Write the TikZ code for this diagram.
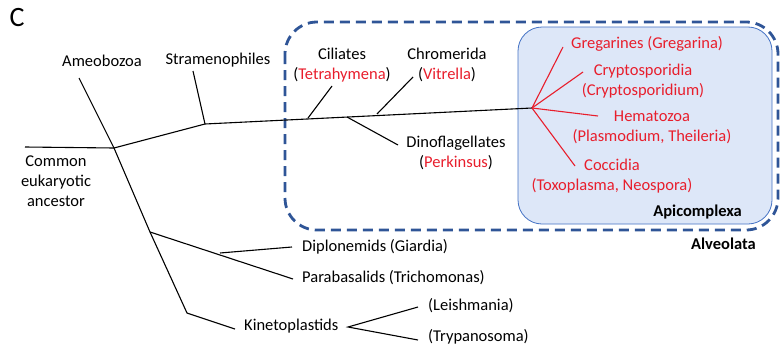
\documentclass[tikz,border=0pt]{standalone}
\usepackage{fontspec}
\setmainfont{Carlito}
\definecolor{dashblue}{RGB}{47,85,151}
\definecolor{boxfill}{RGB}{221,231,248}
\definecolor{boxline}{RGB}{68,114,196}
\definecolor{tred}{RGB}{232,30,44}
\begin{document}
\begin{tikzpicture}[x=1pt,y=-1pt,
  lbl/.style={font=\fontsize{16.5}{20}\selectfont, inner sep=0pt, align=center},
  rlbl/.style={lbl, text=tred},
  blbl/.style={font=\fontsize{16.5}{20}\selectfont\bfseries, anchor=east, inner sep=0pt},
  br/.style={line width=1.1pt, black},
  rbr/.style={line width=1.1pt, tred}]
\useasboundingbox (0,0) rectangle (782,351);
% Alveolata dashed box
\draw[dashblue, line width=2.8pt, dash pattern=on 10pt off 6pt, rounded corners=32pt]
  (285,22) rectangle (778,230);
\node[blbl] (alv) at (756,244) {Alveolata};
% Apicomplexa box
\draw[boxline, fill=boxfill, line width=0.8pt, rounded corners=24pt] (518,27) rectangle (772,224);
\node[blbl] (api) at (742,212) {Apicomplexa};
% label C
\node[font=\fontsize{28}{32}\selectfont, inner sep=0pt] (C) at (17,18) {C};
% coordinates
\coordinate (root) at (25,147);
\coordinate (n1) at (114,148);
\coordinate (amtop) at (79,78);
\coordinate (n2) at (205,124);
\coordinate (sttop) at (193,71);
\coordinate (hub) at (532,108);
\coordinate (cil) at (308,118);
\coordinate (cilt) at (332,86);
\coordinate (din) at (347,117);
\coordinate (dine) at (398,145);
\coordinate (chr) at (377,114);
\coordinate (chrt) at (413,77);
\coordinate (nd) at (150,232);
\coordinate (ndp) at (220,253);
\coordinate (pare) at (293,279);
\coordinate (dipe) at (292,247);
\coordinate (kbot) at (187,313);
\coordinate (kend) at (235,329);
\coordinate (kn) at (348,327);
\coordinate (le) at (418,307);
\coordinate (tr) at (418,340);
% black tree
\draw[br] (root) -- (n1);
\draw[br] (amtop) -- (n1) -- (nd) -- (kbot) -- (kend);
\draw[br] (n1) -- (n2) -- (hub);
\draw[br] (n2) -- (sttop);
\draw[br] (cil) -- (cilt);
\draw[br] (din) -- (dine);
\draw[br] (chr) -- (chrt);
\draw[br] (nd) -- (pare);
\draw[br] (ndp) -- (dipe);
\draw[br] (le) -- (kn) -- (tr);
% red branches
\coordinate (g1) at (563,47);
\coordinate (g2) at (583,72);
\coordinate (g3) at (598,116);
\coordinate (g4) at (575,166);
\draw[rbr] (hub) -- (g1);
\draw[rbr] (hub) -- (g2);
\draw[rbr] (hub) -- (g3);
\draw[rbr] (hub) -- (g4);
% labels
\node[lbl] (amoe) at (102,61) {Ameobozoa};
\node[lbl] (stra) at (218,60) {Stramenophiles};
\node[lbl] (anc) at (56,181) {Common\\eukaryotic\\ancestor};
\node[lbl] (cilL) at (342,65) {Ciliates\\(\textcolor{tred}{Tetrahymena})};
\node[lbl] (chrL) at (447,65) {Chromerida\\(\textcolor{tred}{Vitrella})};
\node[lbl] (dinL) at (456,153) {Dinoflagellates\\(\textcolor{tred}{Perkinsus})};
\node[rlbl] (gre) at (647,44) {Gregarines (Gregarina)};
\node[rlbl] (cry) at (643,81) {Cryptosporidia\\(Cryptosporidium)};
\node[rlbl] (hem) at (652,127) {Hematozoa\\(Plasmodium, Theileria)};
\node[rlbl] (coc) at (612,176) {Coccidia\\(Toxoplasma, Neospora)};
\node[lbl, anchor=west] (dip) at (302,247) {Diplonemids (Giardia)};
\node[lbl, anchor=west] (par) at (302,278) {Parabasalids (Trichomonas)};
\node[lbl, anchor=west] (kin) at (244,326) {Kinetoplastids};
\node[lbl, anchor=west] (lei) at (428,306) {(Leishmania)};
\node[lbl, anchor=west] (try) at (428,337) {(Trypanosoma)};
\end{tikzpicture}
\end{document}
